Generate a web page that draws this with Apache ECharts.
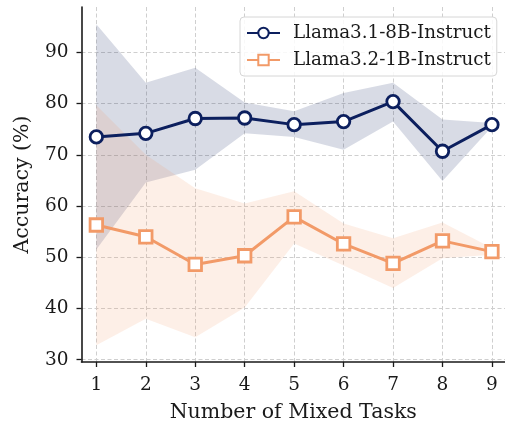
<!DOCTYPE html>
<html>
<head>
<meta charset="utf-8">
<script src="https://cdn.jsdelivr.net/npm/echarts@6/dist/echarts.min.js"></script>
<style>html,body{margin:0;padding:0;background:#fff}#c{width:505px;height:424px}</style>
</head>
<body>
<div id="c"></div>
<script>
const tasks = [1, 2, 3, 4, 5, 6, 7, 8, 9];
const yTicks = [30, 40, 50, 60, 70, 80, 90];
const name8B = 'Llama3.1-8B-Instruct';
const name1B = 'Llama3.2-1B-Instruct';
const mean8B  = [73.5, 74.2, 77.1, 77.2, 75.9, 76.5, 80.4, 70.7, 75.9];
const upper8B = [95.5, 84.1, 87.0, 80.2, 78.5, 82.1, 84.1, 76.9, 76.2];
const lower8B = [51.5, 64.6, 67.1, 74.2, 73.5, 71.0, 76.5, 64.9, 75.5];
const mean1B  = [56.3, 54.0, 48.6, 50.3, 57.9, 52.6, 48.8, 53.2, 51.1];
const upper1B = [79.7, 70.0, 63.5, 60.5, 62.9, 56.6, 53.7, 56.8, 51.8];
const lower1B = [32.8, 38.0, 34.4, 40.2, 52.7, 48.4, 44.0, 49.8, 50.5];

const navy = '#0c1f5e';
const orange = '#f29a68';
const font = 'DejaVu Serif';
const ink = '#1a1a1a';

const pts = (xs, ys) => xs.map((x, i) => [x, ys[i]]);

function band(name, lower, upper, color) {
  const data = tasks.map((x, i) => [x, lower[i], upper[i]]);
  return {
    name: name, type: 'custom', silent: true, z: 1,
    data: data,
    encode: {x: 0, y: [1, 2]},
    renderItem: function (params, api) {
      if (params.dataIndex !== 0) return null;
      const top = data.map(d => api.coord([d[0], d[2]]));
      const bot = data.map(d => api.coord([d[0], d[1]])).reverse();
      return {
        type: 'polygon',
        shape: {points: top.concat(bot)},
        style: {fill: color, opacity: 0.16}
      };
    }
  };
}

const chart = echarts.init(document.getElementById('c'), null, {renderer: 'canvas'});
chart.setOption({
  animation: false,
  backgroundColor: '#fff',
  grid: {left: 81.5, right: 0, top: 7, bottom: 62, containLabel: false, outerBoundsMode: 'none'},
  xAxis: {
    type: 'value', min: 0.7, max: 9.264,
    name: 'Number of Mixed Tasks', nameLocation: 'middle', nameGap: 40,
    nameTextStyle: {fontFamily: font, fontSize: 20.5, color: ink},
    axisLine: {show: true, onZero: false, lineStyle: {color: ink, width: 1.6}},
    axisTick: {show: true, inside: false, length: 5, customValues: tasks, lineStyle: {color: ink, width: 1.3}},
    axisLabel: {customValues: tasks, margin: 14, fontFamily: font, fontSize: 18.5, color: ink},
    splitLine: {show: true, lineStyle: {color: '#cfcfcf', width: 1, type: [4, 2.5]}}
  },
  yAxis: {
    type: 'value', min: 29.55, max: 98.87,
    name: 'Accuracy (%)', nameLocation: 'middle', nameGap: 48, nameRotate: 90,
    nameTextStyle: {fontFamily: font, fontSize: 20.5, color: ink},
    axisLine: {show: true, onZero: false, lineStyle: {color: ink, width: 1.6}},
    axisTick: {show: true, inside: false, length: 5, customValues: yTicks, lineStyle: {color: ink, width: 1.3}},
    axisLabel: {customValues: yTicks, margin: 13, fontFamily: font, fontSize: 18.5, color: ink},
    splitLine: {show: true, lineStyle: {color: '#cfcfcf', width: 1, type: [4, 2.5]}}
  },
  legend: {
    data: [name8B, name1B],
    orient: 'vertical', left: 240, top: 17,
    itemWidth: 33, itemHeight: 13, itemGap: 5,
    padding: [5, 6, 5, 6],
    borderColor: '#d6d6d6', borderWidth: 1, borderRadius: 4,
    backgroundColor: 'rgba(255,255,255,0.85)',
    textStyle: {fontFamily: font, fontSize: 18.3, color: ink, padding: [0, 0, 0, 8], lineHeight: 22}
  },
  series: [
    band('b8', lower8B, upper8B, navy),
    band('b1', lower1B, upper1B, orange),
    {name: name8B, type: 'line', data: pts(tasks, mean8B), z: 5,
     symbol: 'circle', symbolSize: 12.5,
     lineStyle: {color: navy, width: 3},
     itemStyle: {color: '#fff', borderColor: navy, borderWidth: 2.8}},
    {name: name1B, type: 'line', data: pts(tasks, mean1B), z: 5,
     symbol: 'rect', symbolSize: 12.5,
     lineStyle: {color: orange, width: 3},
     itemStyle: {color: '#fff', borderColor: orange, borderWidth: 2.8}}
  ]
});
</script>
</body>
</html>
